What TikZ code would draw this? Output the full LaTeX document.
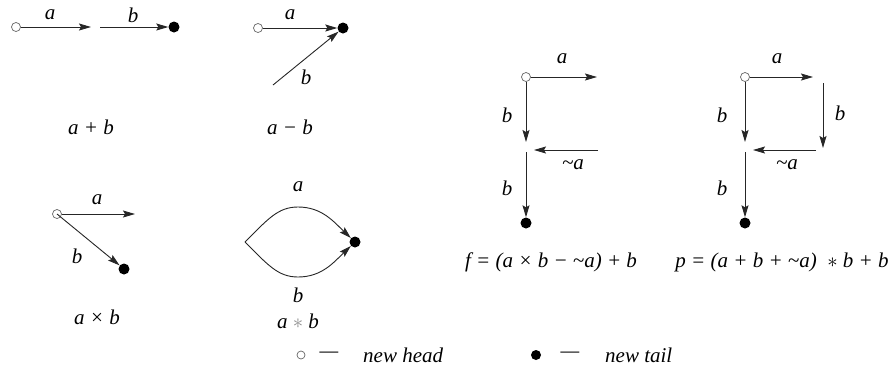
\documentclass[tikz,border=0pt]{standalone}
\usepackage{fontspec}
\setmainfont{Liberation Serif}
\usetikzlibrary{arrows.meta, positioning}

\begin{document}
\begin{tikzpicture}[x=1pt, y=-1pt,
		head/.style={circle, draw=black!60, fill=white, line width=0.7pt, inner sep=0pt, minimum size=9pt},
		tail/.style={circle, fill=black, inner sep=0pt, minimum size=11pt},
		vec/.style={-{Stealth[length=12pt, width=7pt, inset=2pt]}, line width=0.9pt, black!85},
		lbl/.style={font=\fontsize{21}{23}\selectfont\itshape, inner sep=0pt},
		caption/.style={font=\fontsize{21}{23}\selectfont\itshape, inner sep=0pt}
		]
		\useasboundingbox (0,0) rectangle (895,376);
		
		% a + b
		\node[head] (h1) at (16,27) {};
		\coordinate (a1) at (91,27);
		\coordinate (b1) at (100,27);
		\node[tail] (t1) at (174,27) {};
		\draw[vec] (h1) -- (a1);
		\draw[vec] (b1) -- (t1);
		\node[lbl] at (50,15) {a};
		\node[lbl] at (133,15) {b};
		\node[caption] (c1) at (91,127) {a + b};
		
		% a - b
		\node[head] (h2) at (258,28) {};
		\node[tail] (t2) at (343,28) {};
		\coordinate (b2) at (273,85);
		\draw[vec] (h2) -- (t2);
		\draw[vec] (b2) -- (t2);
		\node[lbl] at (290,15) {a};
		\node[lbl] at (306,77) {b};
		\node[caption] (c2) at (290,127) {a − b};
		
		% a x b
		\node[head] (h3) at (57,214) {};
		\coordinate (a3) at (135,214);
		\node[tail] (t3) at (124,269) {};
		\draw[vec] (h3) -- (a3);
		\draw[vec] (h3.center) -- (t3);
		\node[lbl] at (97,200) {a};
		\node[lbl] at (77,256) {b};
		\node[caption] (c3) at (97,317) {a × b};
		
		% a * b
		\coordinate (l4) at (245,242);
		\node[tail] (t4) at (355,242) {};
		\draw[vec] (l4) .. controls (268,219) and (278,207) .. (298,207) .. controls (322,207) and (334,222) .. (t4);
		\draw[vec] (l4) .. controls (268,265) and (278,277) .. (298,277) .. controls (322,277) and (334,262) .. (t4);
		\node[lbl] at (298,187) {a};
		\node[lbl] at (298,295) {b};
		\node[caption] (c4) at (298,321) {a \textcolor{black!45}{$\ast$} b};
		
		% f = (a x b - ~a) + b
		\node[head] (h5) at (526,77) {};
		\coordinate (a5) at (597,77);
		\coordinate (m5) at (526,142);
		\coordinate (n5) at (598,150);
		\coordinate (k5) at (534,150);
		\coordinate (s5) at (526,152);
		\node[tail] (t5) at (526,223) {};
		\draw[vec] (h5) -- (a5);
		\draw[vec] (h5) -- (m5);
		\draw[vec] (n5) -- (k5);
		\draw[vec] (s5) -- (t5);
		\node[lbl] at (562,59) {a};
		\node[lbl] at (507,115) {b};
		\node[lbl] at (573,165) {\textasciitilde a};
		\node[lbl] at (507,188) {b};
		\node[caption] (c5) at (551,262) {f = (a × b − \textasciitilde a) + b};
		
		% p = (a + b + ~a) * b + b
		\node[head] (h6) at (745,77) {};
		\coordinate (a6) at (813,77);
		\coordinate (u6) at (823,83);
		\coordinate (d6) at (823,148);
		\coordinate (n6) at (816,150);
		\coordinate (k6) at (753,150);
		\coordinate (m6) at (745,142);
		\coordinate (s6) at (745,152);
		\node[tail] (t6) at (745,223) {};
		\draw[vec] (h6) -- (a6);
		\draw[vec] (u6) -- (d6);
		\draw[vec] (n6) -- (k6);
		\draw[vec] (h6) -- (m6);
		\draw[vec] (s6) -- (t6);
		\node[lbl] at (777,59) {a};
		\node[lbl] at (840,113) {b};
		\node[lbl] at (787,165) {\textasciitilde a};
		\node[lbl] at (722,115) {b};
		\node[lbl] at (722,188) {b};
		\node[caption] (c6) at (782,262) {p = (a + b + \textasciitilde a)\ \ $\ast$ b + b};
		
		% Legend
		\node[head, minimum size=8pt] (lh) at (301,355) {};
		\node[caption] (lhd) at (329,355) {—};
		\node[caption, anchor=west] at (363,355) {new head};
		\node[tail, minimum size=10pt] (lt) at (536,355) {};
		\node[caption] (ltd) at (570,355) {—};
		\node[caption, anchor=west] at (605,355) {new tail};
		
	\end{tikzpicture}
\end{document}
